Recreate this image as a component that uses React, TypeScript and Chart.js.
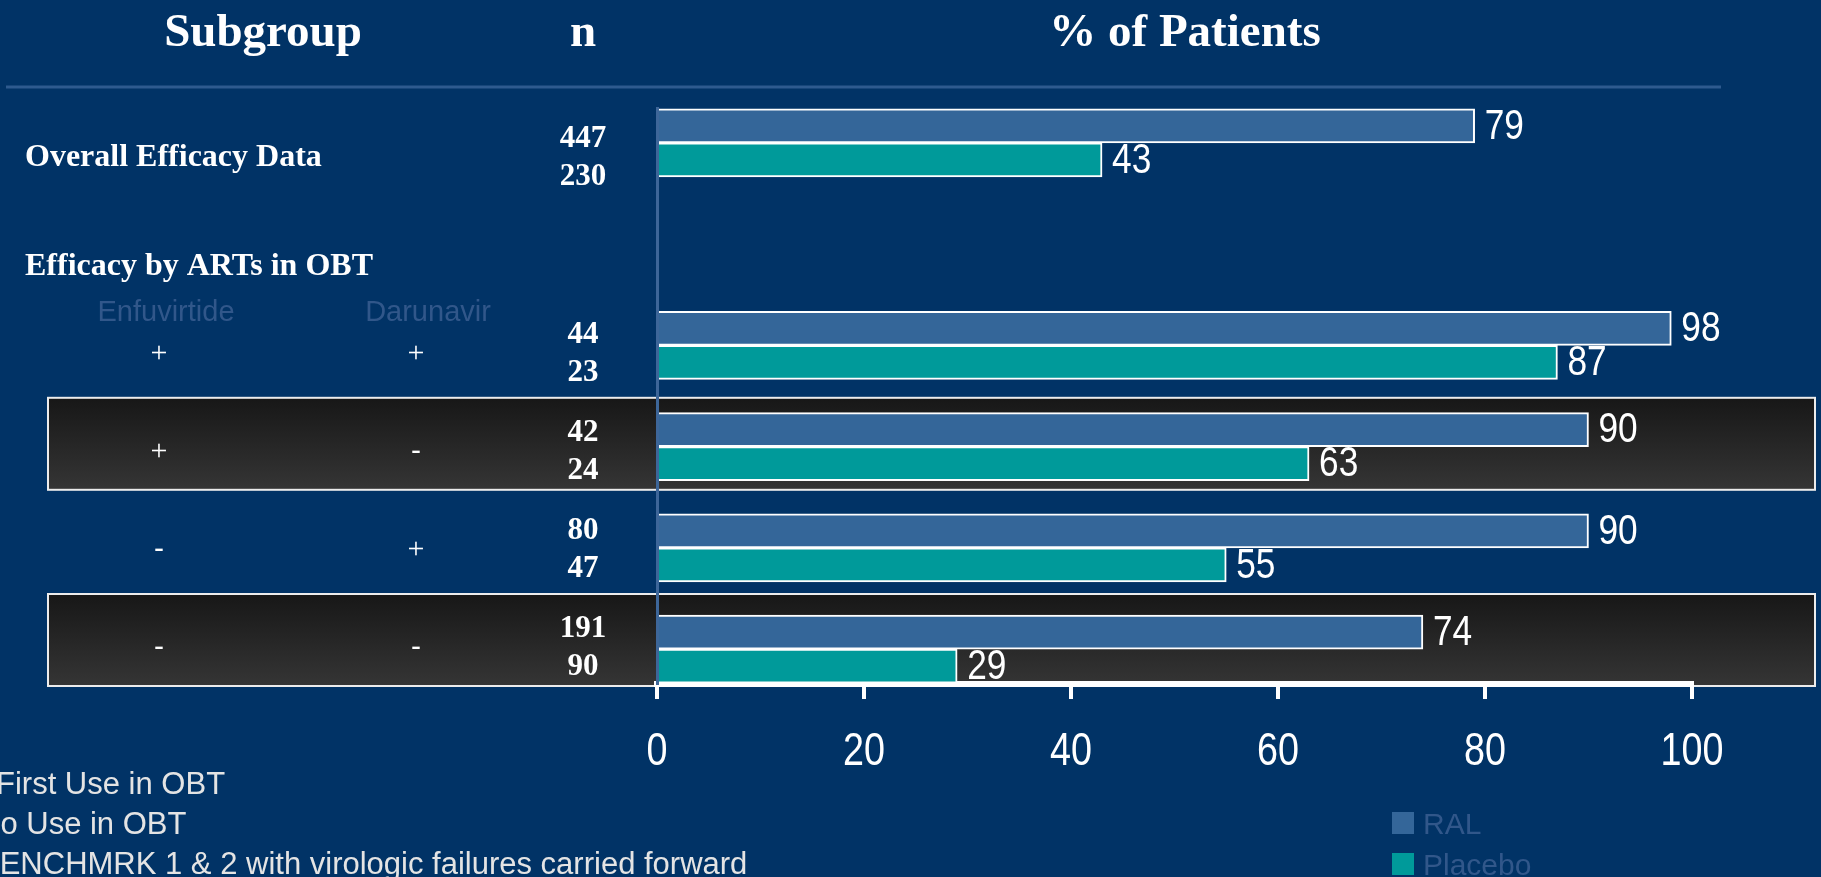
import React, { useEffect, useRef } from "react";
import { Chart, registerables } from "chart.js";

Chart.register(...registerables);

// ---- data ----
const subgroups = [
  "Overall Efficacy Data",
  "Efficacy by ARTs in OBT",
  "+/+",
  "+/-",
  "-/+",
  "-/-",
];
const enfuvirtideUse = ["", "", "+", "+", "-", "-"];
const darunavirUse = ["", "", "+", "-", "+", "-"];
const nRal: (number | null)[] = [447, null, 44, 42, 80, 191];
const nPlacebo: (number | null)[] = [230, null, 23, 24, 47, 90];
const ralPct: (number | null)[] = [79, null, 98, 90, 90, 74];
const placeboPct: (number | null)[] = [43, null, 87, 63, 55, 29];
const xTicks = [0, 20, 40, 60, 80, 100];
const shadedRows = [3, 5];
const columnHeads = ["Subgroup", "n", "% of Patients"];
const artColumns = ["Enfuvirtide", "Darunavir"];
const footnotes = [
  "First Use in OBT",
  "No Use in OBT",
  "BENCHMRK 1 & 2 with virologic failures carried forward",
];

const BG = "#013366";
const RAL_COLOR = "#346699";
const PLACEBO_COLOR = "#009a9a";
const DIM_TEXT = "#31578a";
const SERIF = "'Liberation Serif', 'Times New Roman', serif";
const SANS = "'Liberation Sans', Arial, sans-serif";
const NARROW_SCALE = 0.82;

const toPoints = (vals: (number | null)[]) =>
  vals
    .map((v, i) => (v == null ? null : { x: v, y: i }))
    .filter((p) => p !== null) as { x: number; y: number }[];

// narrow numerals: regular sans squeezed horizontally
function narrowText(ctx: CanvasRenderingContext2D, text: string, x: number, y: number, size: number, align: "left" | "center") {
  ctx.save();
  ctx.translate(x, y);
  ctx.scale(NARROW_SCALE, 1);
  ctx.font = `${size}px ${SANS}`;
  ctx.textAlign = align;
  ctx.textBaseline = "middle";
  ctx.fillText(text, 0, 0);
  ctx.restore();
}

// background, header, shaded rows and left-hand table
const tablePlugin = {
  id: "subgroupTable",
  beforeDraw(chart: any) {
    const { ctx, width, height } = chart;
    const yT = chart.scales.yText;
    const rowY = (v: number) => yT.getPixelForValue(v);
    ctx.save();
    ctx.fillStyle = BG;
    ctx.fillRect(0, 0, width, height);

    // column headings
    ctx.fillStyle = "#ffffff";
    ctx.font = `bold 47px ${SERIF}`;
    ctx.textAlign = "center";
    ctx.textBaseline = "alphabetic";
    ctx.fillText(columnHeads[0], 263, 46);
    ctx.fillText(columnHeads[1], 583, 46);
    ctx.fillText(columnHeads[2], 1185, 46);

    // rule under headings
    ctx.strokeStyle = "#2e5a8e";
    ctx.lineWidth = 3;
    ctx.beginPath();
    ctx.moveTo(6, 87);
    ctx.lineTo(1721, 87);
    ctx.stroke();

    // shaded rows
    shadedRows.forEach((r) => {
      const top = rowY(r) - 54;
      const bottom = rowY(r) + 38;
      const g = ctx.createLinearGradient(0, top, 0, bottom);
      g.addColorStop(0, "#171717");
      g.addColorStop(1, "#353535");
      ctx.fillStyle = g;
      ctx.fillRect(48, top, 1767, bottom - top);
      ctx.strokeStyle = "#ececec";
      ctx.lineWidth = 2;
      ctx.strokeRect(48, top, 1767, bottom - top);
    });

    // subgroup titles
    ctx.fillStyle = "#ffffff";
    ctx.font = `bold 32px ${SERIF}`;
    ctx.textAlign = "left";
    ctx.textBaseline = "middle";
    ctx.fillText(subgroups[0], 25, rowY(0));
    ctx.fillText(subgroups[1], 25, rowY(1) + 11);

    // drug column headings
    ctx.fillStyle = DIM_TEXT;
    ctx.font = `29px ${SANS}`;
    ctx.textAlign = "center";
    ctx.textBaseline = "alphabetic";
    ctx.fillText(artColumns[0], 166, rowY(1) + 65);
    ctx.fillText(artColumns[1], 428, rowY(1) + 65);

    // +/- markers and n
    subgroups.forEach((_, i) => {
      const y = rowY(i);
      ctx.textBaseline = "middle";
      ctx.textAlign = "center";
      ctx.fillStyle = "#ffffff";
      [enfuvirtideUse[i], darunavirUse[i]].forEach((s, c) => {
        if (!s) return;
        ctx.font = s === "+" ? `30px ${SERIF}` : `30px ${SANS}`;
        ctx.fillText(s, c === 0 ? 159 : 416, y);
      });
      ctx.font = `bold 31px ${SERIF}`;
      if (nRal[i] != null) ctx.fillText(String(nRal[i]), 583, y - 19);
      if (nPlacebo[i] != null) ctx.fillText(String(nPlacebo[i]), 583, y + 19);
    });
    ctx.restore();
  },
  afterDraw(chart: any) {
    const { ctx } = chart;
    const xs = chart.scales.x;
    ctx.save();
    // x tick labels
    ctx.fillStyle = "#ffffff";
    xs.ticks.forEach((t: any) => {
      narrowText(ctx, String(t.value), xs.getPixelForValue(t.value), 752, 46, "center");
    });

    // footnotes, running off the left edge
    ctx.fillStyle = "#e4e4e4";
    ctx.font = `31px ${SANS}`;
    ctx.textAlign = "left";
    ctx.textBaseline = "alphabetic";
    const offs = [-4, -22, -21];
    footnotes.forEach((t, i) => ctx.fillText(t, offs[i], 794 + i * 40));

    // legend
    chart.data.datasets.forEach((ds: any, i: number) => {
      const y = 812 + i * 41;
      ctx.fillStyle = ds.backgroundColor;
      ctx.fillRect(1392, y, 22, 22);
      ctx.fillStyle = DIM_TEXT;
      ctx.font = `30px ${SANS}`;
      ctx.fillText(ds.label, 1423, y + 22);
    });
    ctx.restore();
  },
};

// value labels at the end of each bar
const valueLabels = {
  id: "valueLabels",
  afterDatasetsDraw(chart: any) {
    const { ctx } = chart;
    ctx.save();
    ctx.fillStyle = "#ffffff";
    chart.data.datasets.forEach((ds: any, di: number) => {
      const meta = chart.getDatasetMeta(di);
      meta.data.forEach((bar: any, j: number) => {
        narrowText(ctx, String(ds.data[j].x), bar.x + 10, bar.y + 1, 43, "left");
      });
    });
    ctx.restore();
  },
};

export default function App() {
  const ref = useRef<HTMLCanvasElement | null>(null);

  useEffect(() => {
    document.body.style.margin = "0";
    const canvas = ref.current;
    if (!canvas) return;
    const chart = new Chart(canvas, {
      type: "bar",
      data: {
        datasets: [
          {
            label: "RAL",
            data: toPoints(ralPct),
            backgroundColor: RAL_COLOR,
            borderColor: "#ffffff",
            borderWidth: 2,
            barThickness: 34,
            clip: false,
          },
          {
            label: "Placebo",
            data: toPoints(placeboPct),
            backgroundColor: PLACEBO_COLOR,
            borderColor: "#ffffff",
            borderWidth: 2,
            barThickness: 34,
            clip: false,
          },
        ] as any,
      },
      options: {
        indexAxis: "y",
        responsive: false,
        maintainAspectRatio: false,
        animation: false,
        layout: { padding: { top: 108, left: 657, right: 129, bottom: 0 } },
        plugins: {
          legend: { display: false },
          tooltip: { enabled: false },
        },
        scales: {
          x: {
            type: "linear",
            position: "bottom",
            min: 0,
            max: 100,
            afterFit: (s: any) => {
              s.height = 193;
            },
            afterBuildTicks: (s: any) => {
              s.ticks = xTicks.map((v) => ({ value: v }));
            },
            grid: {
              drawOnChartArea: false,
              color: "#ffffff",
              lineWidth: 4,
              tickLength: 15,
            },
            border: { color: "#ffffff", width: 6 },
            ticks: { display: false },
          },
          y: {
            type: "linear",
            reverse: true,
            offset: false,
            min: -0.345,
            max: 5.345,
            afterFit: (s: any) => {
              s.width = 0;
            },
            grid: { display: false, offset: false },
            border: { color: "#3d6699", width: 3 },
            ticks: { display: false },
          },
          yText: {
            type: "linear",
            reverse: true,
            offset: false,
            min: -0.5046,
            max: 5.367,
            display: false,
          },
        },
      } as any,
      plugins: [tablePlugin, valueLabels],
    });
    return () => chart.destroy();
  }, []);

  return (
    <div style={{ width: 1821, height: 877 }}>
      <canvas ref={ref} width={1821} height={877} style={{ display: "block" }} />
    </div>
  );
}
